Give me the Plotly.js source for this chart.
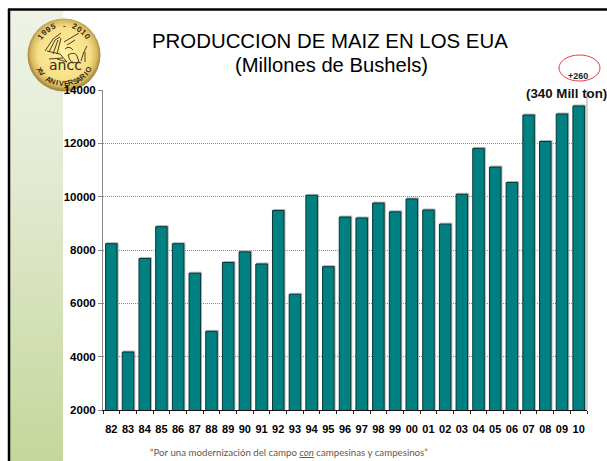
<!DOCTYPE html>
<html><head><meta charset="utf-8">
<script src="https://cdn.plot.ly/plotly-3.0.1.min.js"></script>
<style>html,body{margin:0;padding:0;background:#fff}#c{width:607px;height:461px}
.bars .point path{filter:drop-shadow(1px -1px 0 #b4b4b4)}</style>
</head><body><div id="c"></div>
<script>
const years=['82','83','84','85','86','87','88','89','90','91','92','93','94','95','96','97','98','99','00','01','02','03','04','05','06','07','08','09','10'];
const production=[8235,4175,7680,8875,8235,7130,4950,7530,7930,7475,9480,6340,10050,7375,9235,9200,9760,9430,9915,9500,8970,10090,11810,11110,10530,13060,12070,13100,13400];
const titleLine1='PRODUCCION DE MAIZ EN LOS EUA';
const titleLine2='(Millones de Bushels)';
const noteTop='+260';
const noteTons='(340 Mill ton)';
const footer='“Por una modernización del campo <i><span style="text-decoration:underline">con</span></i> campesinas y campesinos”';
const sealTop='1995 - 2010';
const sealBottom='XV ANIVERSARIO';

const W=607,H=461,L=103,R=587,T=90,B=410;
const px=x=>(x-L)/(R-L), py=y=>(B-y)/(B-T);
const svg=s=>'data:image/svg+xml;base64,'+btoa(s);
const panel=svg(`<svg xmlns="http://www.w3.org/2000/svg" width="53" height="450"><defs><linearGradient id="g" x1="0" y1="0" x2="0" y2="1"><stop offset="0" stop-color="#eef3e6"/><stop offset="0.35" stop-color="#e3ebd3"/><stop offset="1" stop-color="#c6d69b"/></linearGradient></defs><rect width="53" height="450" fill="url(#g)"/></svg>`);
const seal=svg(`<svg xmlns="http://www.w3.org/2000/svg" width="74" height="74" viewBox="0 0 74 74"><defs><radialGradient id="r" cx="0.5" cy="0.48" r="0.5"><stop offset="0" stop-color="#fff0a0"/><stop offset="0.72" stop-color="#f7df88"/><stop offset="0.9" stop-color="#d9bb62"/><stop offset="1" stop-color="#a58b3e"/></radialGradient></defs><circle cx="37" cy="37" r="36.5" fill="url(#r)"/><g fill="none" stroke="#3a2a10" stroke-width="0.9"><path d="M18 33 L26 21 L34 15 M22 34 L28 22 L33 19 M26 36 L31 22 M30 36 L34 20 M20 33 L33 36 L40 44 L30 41"/><path d="M37 24 L52 15 M40 27 L48 22 M38 31 Q42 27 46 32 M41 37 Q48 33 50 38 L52 44 Q46 46 43 42 Z M54 43 Q56 34 60 28 M58 44 L58 34"/><path d="M22 41 L36 40"/></g></svg>`);

const ann=(x,y,text,o={})=>Object.assign({xref:'paper',yref:'paper',x:px(x),y:py(y),text,showarrow:false,xanchor:'center',yanchor:'middle',font:{family:'Liberation Sans',size:12,color:'#000'}},o);
const annotations=[
 ann(329.5,41,titleLine1,{font:{family:'Liberation Sans',size:20.4,color:'#000'}}),
 ann(331,65,titleLine2,{font:{family:'Liberation Sans',size:20.2,color:'#000'}}),
 ann(578,76,'<b>'+noteTop+'</b>',{font:{family:'Liberation Sans',size:9,color:'#222'}}),
 ann(566,94,'<b>'+noteTons+'</b>',{font:{family:'Liberation Sans',size:13.3,color:'#111'}}),
 ann(289,452,footer,{font:{family:'Lato',size:9.7,color:'#6e5440'}}),
 ann(65,64.5,'ancc',{font:{family:'DejaVu Sans',size:14,color:'#3a2a10'}})
];
const cx=64,cy=54;
[...sealTop].forEach((c,i,a)=>{const t=(i-(a.length-1)/2)*10.5;const r=t*Math.PI/180;
 annotations.push(ann(cx+29*Math.sin(r),cy-29*Math.cos(r),'<b>'+c+'</b>',{textangle:t,font:{family:'Liberation Sans',size:8,color:'#3a2a10'}}));});
[...sealBottom].forEach((c,i,a)=>{const t=(i-(a.length-1)/2)*8.8;const r=t*Math.PI/180;
 annotations.push(ann(cx+29.5*Math.sin(r),cy+29.5*Math.cos(r),'<b>'+c+'</b>',{textangle:-t,font:{family:'Liberation Sans',size:7.5,color:'#3a2a10'}}));});

const shapes=[
 {type:'line',xref:'paper',yref:'paper',x0:px(8),x1:px(607),y0:py(9.5),y1:py(9.5),line:{color:'#000',width:2.5}},
 {type:'line',xref:'paper',yref:'paper',x0:px(9),x1:px(9),y0:py(9),y1:py(461),line:{color:'#000',width:2.5}},
 {type:'line',xref:'paper',yref:'paper',x0:1,x1:1,y0:0,y1:1,line:{color:'#a8a8a8',width:1}},
 {type:'circle',xref:'paper',yref:'paper',x0:px(559),x1:px(600),y0:py(81),y1:py(55),line:{color:'#e8384a',width:1}}
];
const images=[
 {source:panel,xref:'paper',yref:'paper',x:px(10),y:py(11),sizex:53/(R-L),sizey:450/(B-T),xanchor:'left',yanchor:'top',sizing:'stretch',layer:'below'},
 {source:seal,xref:'paper',yref:'paper',x:px(27),y:py(18),sizex:74/(R-L),sizey:74/(B-T),xanchor:'left',yanchor:'top',sizing:'stretch',layer:'below'}
];
const tfx={family:'Liberation Sans',size:11,color:'#000',weight:700};
const tfy={family:'Liberation Sans',size:11.5,color:'#000',weight:700};
Plotly.newPlot('c',[{type:'bar',x:years,y:production,marker:{color:'#008080',line:{color:'#05383a',width:1}},hoverinfo:'skip'}],{
 width:W,height:H,showlegend:false,paper_bgcolor:'rgba(0,0,0,0)',plot_bgcolor:'rgba(0,0,0,0)',
 margin:{l:L,r:W-R,t:T,b:H-B,pad:0},bargap:0.31,
 xaxis:{type:'category',tickson:'boundaries',ticks:'outside',ticklen:3,tickcolor:'#222',linecolor:'#111',linewidth:1,showline:true,showgrid:false,zeroline:false,tickfont:tfx,tickangle:0,automargin:false,ticklabelstandoff:9},
 yaxis:{range:[2000,14000],dtick:2000,ticks:'outside',ticklen:4,tickcolor:'#888',linecolor:'#888',linewidth:1,showline:true,showgrid:true,gridcolor:'#8a8a8a',griddash:'1px,1px',gridwidth:1,zeroline:false,tickfont:tfy,automargin:false,tickformat:'d'},
 annotations,shapes,images
},{staticPlot:true,displayModeBar:false});
</script></body></html>
